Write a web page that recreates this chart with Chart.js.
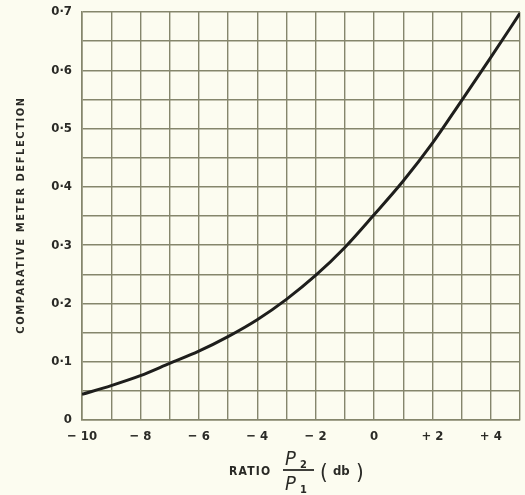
<!DOCTYPE html>
<html>
<head>
<meta charset="utf-8">
<script src="https://cdn.jsdelivr.net/npm/chart.js@4/dist/chart.umd.min.js"></script>
<style>
html,body{margin:0;padding:0;background:#fcfcf0;}
canvas{display:block;}
</style>
</head>
<body>
<canvas id="c" width="525" height="495"></canvas>
<script>
// Ratio P2/P1 in db
const ratioDb = [-10, -9, -8, -7, -6, -5, -4, -3, -2, -1, 0, 1, 2, 3, 4, 5];
// Comparative meter deflection
const deflection = [0.044, 0.059, 0.076, 0.097, 0.118, 0.143, 0.172, 0.207, 0.248, 0.296, 0.352, 0.41, 0.475, 0.548, 0.622, 0.698];
// Tick labels
const xLabelValues = [-10, -8, -6, -4, -2, 0, 2, 4];
const xLabelTexts = ['\u2212 10', '\u2212 8', '\u2212 6', '\u2212 4', '\u2212 2', '0', '+ 2', '+ 4'];
const yLabelTexts = ['0', '0\u00b71', '0\u00b72', '0\u00b73', '0\u00b74', '0\u00b75', '0\u00b76', '0\u00b77'];
const yTitle = 'COMPARATIVE METER DEFLECTION';
const xTitleWord = 'RATIO';
const xTitleNum = 'P';
const xTitleNumSub = '2';
const xTitleDen = 'P';
const xTitleDenSub = '1';

const ink = '#2a2a26';
const gridCol = '#85866c';
const fontFam = '"DejaVu Sans Condensed", "DejaVu Sans", sans-serif';

const bgPlugin = {
  id: 'bg',
  beforeDraw(chart) {
    const ctx = chart.ctx;
    ctx.save();
    ctx.fillStyle = '#fcfcf0';
    ctx.fillRect(0, 0, chart.width, chart.height);
    ctx.restore();
  }
};

const titlePlugin = {
  id: 'titles',
  afterDraw(chart) {
    const ctx = chart.ctx;
    ctx.save();
    ctx.fillStyle = ink;
    ctx.strokeStyle = ink;
    // Y title
    ctx.save();
    ctx.translate(21, 215);
    ctx.rotate(-Math.PI / 2);
    ctx.font = 'bold 11px ' + fontFam;
    ctx.letterSpacing = '1.6px';
    ctx.textAlign = 'center';
    ctx.textBaseline = 'middle';
    ctx.fillText(yTitle, 0, 0);
    ctx.restore();
    // X title
    const baseY = 475;
    ctx.font = 'bold 12px ' + fontFam;
    ctx.letterSpacing = '1.2px';
    ctx.textAlign = 'left';
    ctx.textBaseline = 'alphabetic';
    ctx.fillText(xTitleWord, 229, baseY);
    ctx.letterSpacing = '0px';
    // fraction
    ctx.font = 'italic 20px ' + fontFam;
    ctx.fillText(xTitleNum, 285, 465);
    ctx.font = 'bold 11px ' + fontFam;
    ctx.fillText(xTitleNumSub, 300, 468);
    ctx.lineWidth = 1.8;
    ctx.beginPath();
    ctx.moveTo(283, 470);
    ctx.lineTo(314, 470);
    ctx.stroke();
    ctx.font = 'italic 20px ' + fontFam;
    ctx.fillText(xTitleDen, 285, 490);
    ctx.font = 'bold 11px ' + fontFam;
    ctx.fillText(xTitleDenSub, 300, 493);
    // unit
    ctx.font = '22px ' + fontFam;
    ctx.fillText('(', 320, 479);
    ctx.fillText(')', 356, 479);
    ctx.font = 'bold 13px ' + fontFam;
    ctx.fillText('db', 333, 475);
    ctx.restore();
  }
};

new Chart(document.getElementById('c'), {
  type: 'line',
  data: {
    datasets: [{
      data: ratioDb.map((x, i) => ({x: x, y: deflection[i]})),
      borderColor: '#1e1e1c',
      borderWidth: 3,
      pointRadius: 0,
      cubicInterpolationMode: 'monotone',
      fill: false
    }]
  },
  options: {
    responsive: false,
    animation: false,
    events: [],
    layout: {padding: {top: 12, right: 5, left: 0, bottom: 0}},
    plugins: {legend: {display: false}, tooltip: {enabled: false}},
    scales: {
      x: {
        type: 'linear',
        min: -10, max: 5,
        afterFit(s) { s.height = 75; s.paddingLeft = 0; s.paddingRight = 0; },
        grid: {color: gridCol, lineWidth: 1.4, drawTicks: false},
        border: {color: gridCol, width: 1.6},
        ticks: {
          stepSize: 1,
          autoSkip: false,
          maxRotation: 0,
          padding: 9,
          color: ink,
          font: {family: fontFam, size: 13, weight: 'bold'},
          callback(v) {
            const i = xLabelValues.findIndex(t => Math.abs(t - v) < 1e-6);
            return i >= 0 ? xLabelTexts[i] : '';
          }
        }
      },
      y: {
        min: 0, max: 0.7,
        afterFit(s) { s.width = 82; s.paddingTop = 0; s.paddingBottom = 0; },
        grid: {color: gridCol, lineWidth: 1.4, drawTicks: false},
        border: {color: gridCol, width: 1.6},
        ticks: {
          stepSize: 0.05,
          autoSkip: false,
          padding: 10,
          color: ink,
          font: {family: fontFam, size: 13, weight: 'bold'},
          callback(v) {
            const k = Math.round(v * 20);
            return k % 2 === 0 ? yLabelTexts[k / 2] : '';
          }
        }
      }
    }
  },
  plugins: [bgPlugin, titlePlugin]
});
</script>
</body>
</html>
